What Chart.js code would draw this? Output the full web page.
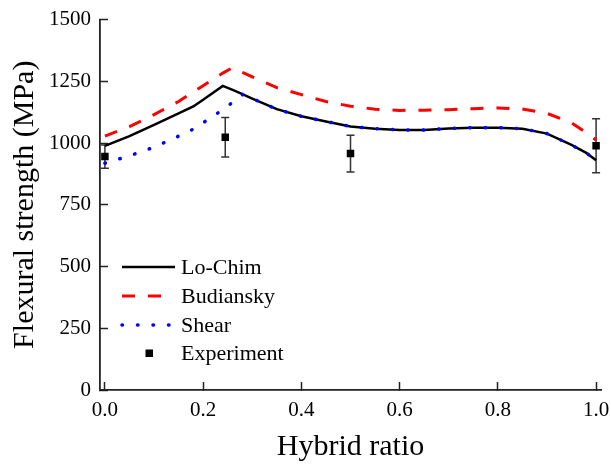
<!DOCTYPE html>
<html>
<head>
<meta charset="utf-8">
<script src="https://cdn.jsdelivr.net/npm/chart.js@4.4.0/dist/chart.umd.min.js"></script>
<style>
html, body { margin: 0; padding: 0; background: #fff; }
</style>
</head>
<body>
<canvas id="myChart" width="611" height="466"></canvas>
<script>
// hybrid ratio grid for the model curves
const ratio = [0, 0.05, 0.1, 0.15, 0.18, 0.2, 0.24, 0.26, 0.28, 0.3, 0.35, 0.4, 0.45, 0.5, 0.55, 0.6, 0.65, 0.7, 0.75, 0.8, 0.85, 0.9, 0.95, 0.98, 1.0]
const loChim = [988, 1028, 1073, 1120, 1148, 1175, 1231, 1215, 1198, 1180, 1137, 1108, 1087, 1067, 1058, 1053, 1053, 1059, 1062, 1062, 1058, 1038, 992, 960, 930]
const budiansky = [1028, 1066, 1115, 1168, 1207, 1232, 1283, 1305, 1286, 1268, 1224, 1196, 1168, 1149, 1137, 1132, 1133, 1135, 1139, 1142, 1138, 1120, 1082, 1042, 1012]
const shear = [918, 948, 983, 1028, 1056, 1082, 1135, 1165, 1196, 1180, 1137, 1108, 1087, 1067, 1058, 1053, 1053, 1059, 1062, 1062, 1058, 1038, 992, 960, 930]

const expRatio = [0, 0.245, 0.5, 1.0]
const expStrength = [945, 1023, 957, 989]
const expError = [47, 80, 74, 109]

const xTicks = [0, 0.2, 0.4, 0.6, 0.8, 1.0]

const serif = 'Liberation Serif'

function toPoints (xs, ys) {
    return xs.map((v, i) => ({x: v, y: ys[i]}))
}

let dataSets = [
    {
        label: 'Lo-Chim',
        data: toPoints(ratio, loChim),
        showLine: true,
        borderColor: '#000000',
        borderWidth: 2.5,
        pointRadius: 0,
        tension: 0,
        order: 2
    },
    {
        label: 'Budiansky',
        data: toPoints(ratio, budiansky),
        showLine: true,
        borderColor: '#ff0000',
        borderWidth: 3,
        borderDash: [13, 13],
        pointRadius: 0,
        tension: 0,
        order: 3
    },
    {
        label: 'Shear',
        data: toPoints(ratio, shear),
        showLine: true,
        borderColor: '#0000ff',
        borderWidth: 3.5,
        borderDash: [0.5, 15],
        borderCapStyle: 'round',
        pointRadius: 0,
        tension: 0,
        order: 1
    },
    {
        label: 'Experiment',
        data: toPoints(expRatio, expStrength),
        showLine: false,
        pointStyle: 'rect',
        pointRadius: 5.3,
        backgroundColor: '#000000',
        borderColor: '#000000',
        borderWidth: 0,
        order: 0
    }
]

// vertical error bars with caps under the experiment squares
const errorBars = {
    id: 'errorBars',
    beforeDatasetsDraw (chart) {
        const {ctx, scales: {x, y}} = chart
        ctx.save()
        ctx.strokeStyle = '#333333'
        ctx.lineWidth = 1.5
        expRatio.forEach((r, i) => {
            const px = x.getPixelForValue(r)
            const top = y.getPixelForValue(expStrength[i] + expError[i])
            const bot = y.getPixelForValue(expStrength[i] - expError[i])
            ctx.beginPath()
            ctx.moveTo(px, top)
            ctx.lineTo(px, bot)
            ctx.moveTo(px - 4, top)
            ctx.lineTo(px + 4, top)
            ctx.moveTo(px - 4, bot)
            ctx.lineTo(px + 4, bot)
            ctx.stroke()
        })
        ctx.restore()
    }
}

// legend sits inside the plot, lower left
const innerLegend = {
    id: 'innerLegend',
    afterDraw (chart) {
        const ctx = chart.ctx
        const rows = [267, 296, 325, 353]
        ctx.save()
        dataSets.forEach((ds, i) => {
            const yy = rows[i]
            ctx.strokeStyle = ds.borderColor
            ctx.lineWidth = ds.borderWidth
            ctx.setLineDash(ds.borderDash || [])
            ctx.lineCap = ds.borderCapStyle || 'butt'
            if (ds.showLine === false) {
                ctx.fillStyle = '#000'
                ctx.fillRect(145.5, yy - 3.5, 7.5, 7.5)
            } else {
                ctx.beginPath()
                ctx.moveTo(122, yy)
                ctx.lineTo(ds.label === 'Budiansky' ? 162 : 175, yy)
                ctx.stroke()
            }
            ctx.setLineDash([])
            ctx.fillStyle = '#000'
            ctx.font = '22px "' + serif + '"'
            ctx.textBaseline = 'middle'
            ctx.textAlign = 'left'
            ctx.fillText(ds.label, 181, yy + 1)
        })
        ctx.restore()
    }
}

let chartContext = document.getElementById('myChart').getContext('2d')

const myChart = new Chart(chartContext, {
    type: 'scatter',
    data: {datasets: dataSets},
    plugins: [errorBars, innerLegend],
    options: {
        responsive: false,
        animation: false,
        layout: {padding: {top: 19.5, right: 10, left: 0, bottom: 0}},
        plugins: {
            legend: {display: false},
            tooltip: {enabled: false}
        },
        scales: {
            x: {
                type: 'linear',
                min: -0.01,
                max: 1.01,
                afterFit: s => {
                    s.height = 76
                    s.paddingLeft = 0
                    s.paddingRight = 0
                },
                afterBuildTicks: s => { s.ticks = xTicks.map(v => ({value: v})) },
                ticks: {
                    callback: v => v.toFixed(1),
                    color: '#000',
                    padding: 16,
                    font: {family: serif, size: 21}
                },
                grid: {drawOnChartArea: false, tickLength: -8, tickWidth: 1.5, tickColor: '#222'},
                border: {color: '#222', width: 1.8},
                title: {
                    display: true,
                    text: 'Hybrid ratio',
                    color: '#000',
                    font: {family: serif, size: 30},
                    padding: {top: 0, bottom: 1}
                }
            },
            y: {
                type: 'linear',
                min: 0,
                max: 1500,
                afterFit: s => {
                    s.width = 100
                    s.paddingTop = 0
                    s.paddingBottom = 0
                },
                ticks: {
                    stepSize: 250,
                    callback: v => String(v),
                    color: '#000',
                    padding: 17,
                    font: {family: serif, size: 21}
                },
                grid: {drawOnChartArea: false, tickLength: -8, tickWidth: 1.5, tickColor: '#222'},
                border: {color: '#222', width: 1.8},
                title: {
                    display: true,
                    text: 'Flexural strength (MPa)',
                    color: '#000',
                    font: {family: serif, size: 30},
                    padding: {top: 7, bottom: 0}
                }
            }
        }
    }
})
</script>
</body>
</html>
